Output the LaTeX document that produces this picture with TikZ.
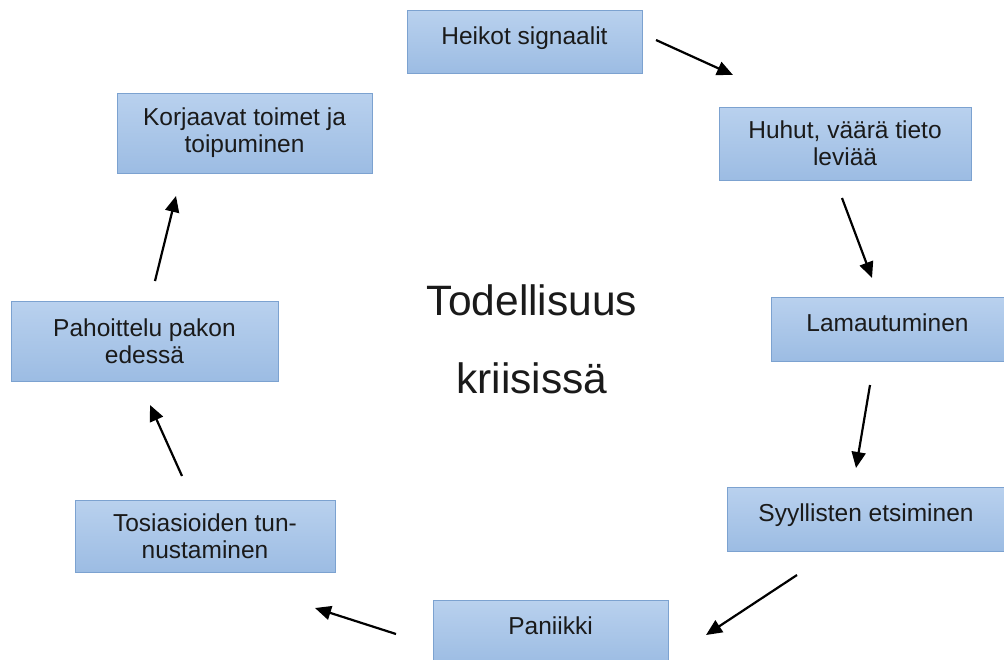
\documentclass[tikz,border=0pt]{standalone}
\usepackage{fontspec}
\setmainfont{Liberation Sans}
\usetikzlibrary{arrows.meta}
\definecolor{boxtop}{HTML}{B9D1EE}
\definecolor{boxbot}{HTML}{9CBCE3}
\definecolor{boxline}{HTML}{7CA2D0}
\definecolor{ink}{HTML}{1A1A1A}
\begin{document}
\begin{tikzpicture}[x=1pt,y=-1pt,
  stagebox/.style={rectangle, draw=boxline, line width=0.9pt,
    top color=boxtop, bottom color=boxbot, align=center,
    text=ink, font=\fontsize{24.5}{27}\selectfont, inner sep=0pt},
  oneline/.style={text height=18pt, text depth=13pt},
  flow/.style={line width=2.2pt, -{Triangle[length=16pt,width=14pt]}}]
\useasboundingbox (0,0) rectangle (1004,659);
\fill[white] (0,0) rectangle (1004,659);

% stages of the cycle
\node[stagebox, oneline, minimum width=235pt, minimum height=63pt] (s1) at (524.5,41.5) {Heikot signaalit};
\node[stagebox, minimum width=252pt, minimum height=73pt] (s2) at (845,143.5) {Huhut, väärä tieto\\leviää};
\node[stagebox, oneline, minimum width=233pt, minimum height=64pt] (s3) at (887.5,329) {Lamautuminen};
\node[stagebox, oneline, minimum width=278pt, minimum height=64pt] (s4) at (866,519) {Syyllisten etsiminen};
\node[stagebox, oneline, minimum width=235pt, minimum height=64pt] (s5) at (550.5,632) {Paniikki};
\node[stagebox, minimum width=260pt, minimum height=72pt] (s6) at (205,536) {Tosiasioiden tun-\\nustaminen};
\node[stagebox, minimum width=267pt, minimum height=80pt] (s7) at (144.5,341) {Pahoittelu pakon\\edessä};
\node[stagebox, minimum width=255pt, minimum height=80pt] (s8) at (244.5,133) {Korjaavat toimet ja\\toipuminen};

% central title
\node[align=center, text=ink, font=\fontsize{42.5}{78}\selectfont] (title) at (532,339) {Todellisuus\\kriisissä};

% arrow end points
\coordinate (a1s) at (656,40);  \coordinate (a1e) at (733,75);
\coordinate (a2s) at (842,198); \coordinate (a2e) at (872,278);
\coordinate (a3s) at (870,385); \coordinate (a3e) at (856,468);
\coordinate (a4s) at (797,575); \coordinate (a4e) at (706,635);
\coordinate (a5s) at (396,634); \coordinate (a5e) at (315,608);
\coordinate (a6s) at (182,476); \coordinate (a6e) at (150,405);
\coordinate (a7s) at (155,281); \coordinate (a7e) at (176,196);

\draw[flow] (a1s) -- (a1e);
\draw[flow] (a2s) -- (a2e);
\draw[flow] (a3s) -- (a3e);
\draw[flow] (a4s) -- (a4e);
\draw[flow] (a5s) -- (a5e);
\draw[flow] (a6s) -- (a6e);
\draw[flow] (a7s) -- (a7e);
\end{tikzpicture}
\end{document}
